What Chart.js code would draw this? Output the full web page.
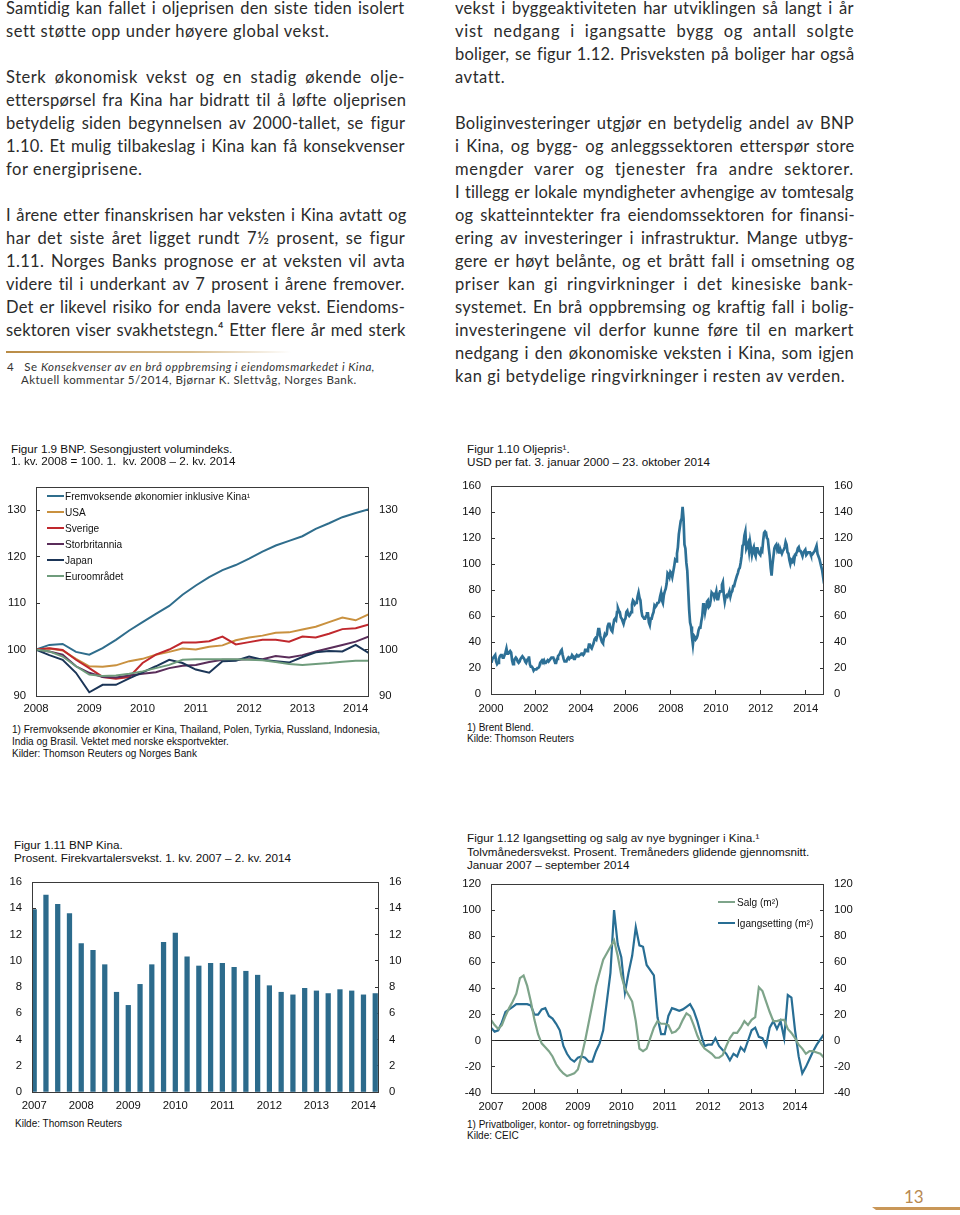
<!DOCTYPE html>
<html><head><meta charset="utf-8">
<script src="https://cdn.jsdelivr.net/npm/chart.js@4.4.1/dist/chart.umd.min.js"></script>
<style>
body{margin:0;width:960px;height:1215px;position:relative;background:#fff;overflow:hidden}
.t{position:absolute;font-family:Lato,"Open Sans",sans-serif;font-size:16.5px;letter-spacing:0.55px;color:#2b2b2b;line-height:23px;white-space:nowrap}
.c{position:absolute;font-family:"Liberation Sans",Arial,sans-serif;font-size:11.7px;line-height:13px;color:#111;white-space:nowrap;z-index:2}
.f{position:absolute;font-family:"Liberation Sans",Arial,sans-serif;font-size:10px;line-height:12px;color:#111;white-space:nowrap;z-index:2}
.lg{position:absolute;font-family:"Liberation Sans",Arial,sans-serif;font-size:10.1px;line-height:12px;color:#111;white-space:nowrap;z-index:2}
.lg i{display:inline-block;width:17px;height:2px;vertical-align:middle;margin-right:1px;position:relative;top:-1px}
canvas{position:absolute;z-index:1}
</style></head><body>

<!-- left column text -->
<div class="t j" style="left:6px;top:-3px">Samtidig kan fallet i oljeprisen den siste tiden isolert</div>
<div class="t" style="left:6px;top:20px">sett støtte opp under høyere global vekst.</div>
<div class="t j" style="left:6px;top:66px">Sterk økonomisk vekst og en stadig økende olje-</div>
<div class="t j" style="left:6px;top:89px">etterspørsel fra Kina har bidratt til å løfte oljeprisen</div>
<div class="t j" style="left:6px;top:112px">betydelig siden begynnelsen av 2000-tallet, se figur</div>
<div class="t j" style="left:6px;top:135px">1.10. Et mulig tilbakeslag i Kina kan få konsekvenser</div>
<div class="t" style="left:6px;top:158px">for energiprisene.</div>
<div class="t j" style="left:6px;top:204px">I årene etter finanskrisen har veksten i Kina avtatt og</div>
<div class="t j" style="left:6px;top:227px">har det siste året ligget rundt 7½ prosent, se figur</div>
<div class="t j" style="left:6px;top:250px">1.11. Norges Banks prognose er at veksten vil avta</div>
<div class="t j" style="left:6px;top:273px">videre til i underkant av 7 prosent i årene fremover.</div>
<div class="t j" style="left:6px;top:296px">Det er likevel risiko for enda lavere vekst. Eiendoms-</div>
<div class="t j" style="left:6px;top:319px">sektoren viser svakhetstegn.⁴ Etter flere år med sterk</div>
<div style="position:absolute;left:6px;top:351px;width:285px;height:2px;background:linear-gradient(to right,#b98b45,#d8bd8e 65%,rgba(255,255,255,0))"></div>
<div class="t" style="left:7px;top:360px;font-size:11.5px;letter-spacing:0.45px;line-height:13px;color:#333">4&nbsp;&nbsp;&nbsp;Se <i>Konsekvenser av en brå oppbremsing i eiendomsmarkedet i Kina,</i></div>
<div class="t" style="left:21px;top:373px;font-size:11.5px;letter-spacing:0.45px;line-height:13px;color:#333">Aktuell kommentar 5/2014, Bjørnar K. Slettvåg, Norges Bank.</div>

<!-- right column text -->
<div class="t j" style="left:455px;top:-3px">vekst i byggeaktiviteten har utviklingen så langt i år</div>
<div class="t j" style="left:455px;top:20px">vist nedgang i igangsatte bygg og antall solgte</div>
<div class="t j" style="left:455px;top:43px">boliger, se figur 1.12. Prisveksten på boliger har også</div>
<div class="t" style="left:455px;top:66px">avtatt.</div>
<div class="t j" style="left:455px;top:112px">Boliginvesteringer utgjør en betydelig andel av BNP</div>
<div class="t j" style="left:455px;top:135px">i Kina, og bygg- og anleggssektoren etterspør store</div>
<div class="t j" style="left:455px;top:158px">mengder varer og tjenester fra andre sektorer.</div>
<div class="t j" style="left:455px;top:181px">I tillegg er lokale myndigheter avhengige av tomtesalg</div>
<div class="t j" style="left:455px;top:204px">og skatteinntekter fra eiendomssektoren for finansi-</div>
<div class="t j" style="left:455px;top:227px">ering av investeringer i infrastruktur. Mange utbyg-</div>
<div class="t j" style="left:455px;top:250px">gere er høyt belånte, og et brått fall i omsetning og</div>
<div class="t j" style="left:455px;top:273px">priser kan gi ringvirkninger i det kinesiske bank-</div>
<div class="t j" style="left:455px;top:296px">systemet. En brå oppbremsing og kraftig fall i bolig-</div>
<div class="t j" style="left:455px;top:319px">investeringene vil derfor kunne føre til en markert</div>
<div class="t j" style="left:455px;top:342px">nedgang i den økonomiske veksten i Kina, som igjen</div>
<div class="t" style="left:455px;top:365px">kan gi betydelige ringvirkninger i resten av verden.</div>

<!-- Figure 1.9 texts -->
<div class="c" style="left:11px;top:442px">Figur 1.9 BNP. Sesongjustert volumindeks.</div>
<div class="c" style="left:11px;top:454px">1. kv. 2008 = 100. 1.&nbsp; kv. 2008 – 2. kv. 2014</div>
<div class="lg" style="left:47px;top:491px"><i style="background:#2f6d8c"></i>Fremvoksende økonomier inklusive Kina¹</div>
<div class="lg" style="left:47px;top:507px"><i style="background:#c9913f"></i>USA</div>
<div class="lg" style="left:47px;top:523px"><i style="background:#c0282d"></i>Sverige</div>
<div class="lg" style="left:47px;top:539px"><i style="background:#5a2d5a"></i>Storbritannia</div>
<div class="lg" style="left:47px;top:555px"><i style="background:#1b3557"></i>Japan</div>
<div class="lg" style="left:47px;top:571px"><i style="background:#6f9c7c"></i>Euroområdet</div>
<div class="f" style="left:12px;top:724px">1) Fremvoksende økonomier er Kina, Thailand, Polen, Tyrkia, Russland, Indonesia,</div>
<div class="f" style="left:12px;top:736px">India og Brasil. Vektet med norske eksportvekter.</div>
<div class="f" style="left:12px;top:748px">Kilder: Thomson Reuters og Norges Bank</div>

<!-- Figure 1.10 texts -->
<div class="c" style="left:467px;top:442px">Figur 1.10 Oljepris¹.</div>
<div class="c" style="left:467px;top:455px">USD per fat. 3. januar 2000 – 23. oktober 2014</div>
<div class="f" style="left:467px;top:722px">1) Brent Blend.</div>
<div class="f" style="left:467px;top:733px">Kilde: Thomson Reuters</div>

<!-- Figure 1.11 texts -->
<div class="c" style="left:14px;top:838px">Figur 1.11 BNP Kina.</div>
<div class="c" style="left:14px;top:851px">Prosent. Firekvartalersvekst. 1. kv. 2007 – 2. kv. 2014</div>
<div class="f" style="left:15px;top:1118px">Kilde: Thomson Reuters</div>

<!-- Figure 1.12 texts -->
<div class="c" style="left:467px;top:831px">Figur 1.12 Igangsetting og salg av nye bygninger i Kina.¹</div>
<div class="c" style="left:467px;top:845px">Tolvmånedersvekst. Prosent. Tremåneders glidende gjennomsnitt.</div>
<div class="c" style="left:467px;top:858px">Januar 2007 – september 2014</div>
<div class="lg" style="left:718px;top:897px"><i style="background:#7ea48a;margin-right:2px"></i>Salg (m²)</div>
<div class="lg" style="left:718px;top:918px"><i style="background:#286e94;margin-right:2px"></i>Igangsetting (m²)</div>
<div class="f" style="left:467px;top:1119px">1) Privatboliger, kontor- og forretningsbygg.</div>
<div class="f" style="left:467px;top:1130px">Kilde: CEIC</div>

<!-- page number -->
<div style="position:absolute;left:904px;top:1186px;font:17px Lato,sans-serif;color:#b8894f">13</div>
<div style="position:absolute;left:872px;top:1207px;width:88px;height:3px;background:#c99758;clip-path:polygon(0 0,100% 0,100% 100%,4px 100%)"></div>

<canvas id="c1" width="420" height="247" style="left:0px;top:475px"></canvas>
<canvas id="c2" width="420" height="246" style="left:450px;top:474px"></canvas>
<canvas id="c3" width="425" height="248" style="left:0px;top:870px"></canvas>
<canvas id="c4" width="420" height="246" style="left:450px;top:872px"></canvas>

<script>
// ---------- DATA ----------
// Figur 1.9: quarterly index, 1. kv. 2008 – 2. kv. 2014
const bnpYearLabels = ['2008','2009','2010','2011','2012','2013','2014'];
const bnpTicks = [90,100,110,120,130];
const bnpEmerging = [100,101,101.2,99.5,98.9,100.3,102.1,104.1,105.9,107.7,109.4,111.8,113.8,115.6,117.1,118.2,119.6,121.1,122.4,123.4,124.4,126,127.2,128.5,129.4,130.2];
const bnpUSA = [100,100.2,99.8,98,96.4,96.3,96.6,97.5,98,98.9,99.5,100.2,100,100.6,100.9,102,102.6,103,103.6,103.7,104.3,104.9,105.9,106.9,106.3,107.6];
const bnpSweden = [100,100.3,99.9,97.8,96,94.1,93.7,94.1,97.1,98.9,100,101.5,101.5,101.8,102.8,101.1,101.6,102.1,102.1,101.7,102.8,102.6,103.4,104.4,104.6,105.4];
const bnpUK = [100,99.6,98.9,96.4,95,94.1,94,94.4,94.8,95.1,96,96.5,96.7,97.3,97.8,97.8,97.9,97.9,98.6,98.3,98.8,99.6,100.3,101,101.7,102.8];
const bnpJapan = [100,98.8,97.8,95,90.8,92.4,92.4,93.8,95.1,96.4,97.8,97.1,95.7,95,97.5,97.6,98.5,97.8,97.5,97.2,98.4,99.4,99.7,99.6,101,99.2];
const bnpEuro = [100,99.6,98.5,96.4,94.6,94.3,94.4,94.8,95.3,96,96.7,97.8,97.9,97.9,97.9,97.9,97.8,97.7,97.3,96.9,96.7,96.9,97.1,97.4,97.6,97.6];

// Figur 1.10: Brent, USD per barrel, two readings per month, Jan 2000 – Oct 2014
const oilYearTicks = [2000,2002,2004,2006,2008,2010,2012,2014];
const oilValueTicks = [0,20,40,60,80,100,120,140,160];
const oilPrice = [
 24,27,28,29,30,25,23,24,27,29,30,30,28,28,30,32,35,31,31,32,33,32,26,23,
 25,27,28,27,25,24,25,27,28,29,28,27,25,24,26,27,29,23,21,21,20,18,19,19,
 19,20,20,21,24,25,26,25,26,24,24,25,26,25,26,27,28,28,28,26,24,24,27,29,
 30,31,33,34,30,27,25,25,25,27,28,27,28,28,30,29,27,27,29,30,29,29,30,30,
 31,31,30,31,34,34,33,34,38,38,36,35,37,39,42,43,42,45,50,50,45,42,40,39,
 43,46,45,46,52,54,54,51,49,48,53,57,58,57,63,66,64,63,59,58,56,54,57,58,
 63,64,61,60,61,63,69,72,71,69,70,70,75,78,74,72,64,60,59,58,58,60,62,62,
 55,53,58,58,61,63,68,67,68,70,70,71,75,78,72,70,76,79,81,85,93,92,90,94,
 93,90,94,98,103,102,108,113,123,128,133,135,144,135,115,112,101,95,80,65,55,52,44,38,
 45,44,42,43,45,49,51,51,56,60,69,69,63,67,71,72,67,68,72,78,77,77,74,76,
 79,73,73,77,79,79,84,86,76,71,75,76,75,77,79,75,78,79,83,83,86,86,91,93,
 96,97,101,106,114,115,122,125,112,114,116,110,117,117,107,111,113,108,106,112,112,109,108,107,
 111,110,118,124,125,124,120,119,112,106,97,91,100,106,112,114,115,111,113,109,109,110,108,110,
 111,113,117,115,109,108,103,100,103,102,104,102,107,108,109,112,113,110,110,108,106,109,110,111,
 107,108,109,109,109,107,107,108,109,110,112,114,108,106,104,101,98,95,90,85];

// Figur 1.11: China GDP, four-quarter growth, 1. kv. 2007 – 2. kv. 2014
const gdpYearLabels = ['2007','2008','2009','2010','2011','2012','2013','2014'];
const gdpTicks = [0,2,4,6,8,10,12,14,16];
const gdpChina = [13.9,15.0,14.3,13.6, 11.3,10.8,9.7,7.6, 6.6,8.2,9.7,11.4, 12.1,10.3,9.6,9.8, 9.8,9.5,9.2,8.9, 8.1,7.6,7.4,7.9, 7.7,7.5,7.8,7.7, 7.4,7.5];

// Figur 1.12: monthly, Jan 2007 – Sep 2014
const bygYearLabels = ['2007','2008','2009','2010','2011','2012','2013','2014'];
const bygTicks = [-40,-20,0,20,40,60,80,100,120];
const salg = [16,12,9,12,19,25,30,36,48,50,42,30,16,5,-2,-5,-8,-12,-18,-22,-25,-27,-26,-25,-22,-12,0,14,28,42,52,62,67,72,77,65,50,40,35,30,15,-6,-8,-6,2,10,15,13,13,12,6,7,10,16,21,19,12,4,-2,-6,-8,-10,-13,-13,-11,-4,2,6,6,10,15,12,16,18,41,38,30,22,15,15,16,16,9,6,2,-3,-6,-10,-8,-8,-9,-10,-13];
const igangsetting = [10,7,8,14,22,24,26,28,28,28,28,27,20,20,24,25,19,17,13,8,-4,-10,-14,-16,-13,-12,-13,-16,-16,-8,-2,8,30,52,100,74,64,37,52,65,87,73,72,58,54,50,18,5,5,19,25,24,23,24,26,28,23,15,5,-4,-3,-3,2,-4,-7,-10,-15,-10,-12,-5,-8,0,8,10,3,2,-4,10,15,9,15,2,35,33,8,-12,-25,-20,-14,-8,-3,1,5];

// ---------- TEXT JUSTIFICATION ----------
function justify(){
  document.querySelectorAll('.j').forEach(el=>{
    el.style.letterSpacing='0px'; el.style.wordSpacing='0px';
    el.style.display='inline-block'; el.style.whiteSpace='nowrap';
    const w = el.getBoundingClientRect().width;
    const text = el.textContent; const n = text.length;
    const spaces = (text.match(/ /g)||[]).length || 1;
    const extra = 399 - w;
    const ls = Math.max(-0.3, Math.min(1.6, extra*0.5/n));
    const ws = (extra - ls*n)/spaces;
    el.style.letterSpacing = ls+'px'; el.style.wordSpacing = ws+'px';
  });
}
justify();
if (document.fonts && document.fonts.ready) document.fonts.ready.then(justify);

// ---------- HELPERS ----------
const FONT = {family:'"Liberation Sans", Arial, sans-serif', size:11.3};
const frame = {id:'frame', afterDraw(chart){
  const {ctx, chartArea:a} = chart;
  ctx.save(); ctx.strokeStyle='#3a3a3a'; ctx.lineWidth=1;
  ctx.strokeRect(Math.round(a.left)+0.5, Math.round(a.top)+0.5, Math.round(a.right-a.left)-1, Math.round(a.bottom-a.top));
  ctx.restore();
}};
function yAxis(pos, min, max, ticks, width, extraGrid){
  return {type:'linear', position:pos, min:min, max:max,
    afterBuildTicks:s=>{ s.ticks = ticks.map(v=>({value:v})); },
    afterFit:s=>{ s.width = width; s.paddingTop = 0; s.paddingBottom = 0; },
    ticks:{font:FONT, color:'#111', padding:14, autoSkip:false, callback:v=>String(v)},
    grid:Object.assign({drawOnChartArea:false, drawTicks:true, tickLength:-4, tickColor:'#333', color:'#333'}, extraGrid||{}),
    border:{display:false}};
}
function xAxis(min, max, tickVals, labelFn, height, pad, tickColor){
  return {type:'linear', position:'bottom', min:min, max:max, offset:false,
    afterBuildTicks:s=>{ s.ticks = tickVals.map(v=>({value:v})); },
    afterFit:s=>{ s.height = height; },
    ticks:{font:FONT, color:'#111', padding:pad, autoSkip:false, maxRotation:0, callback:labelFn},
    grid:{offset:false, drawOnChartArea:false, drawTicks:true, tickLength:-4, tickColor:tickColor, color:tickColor},
    border:{display:false}};
}
function baseOpts(topPad){
  return {responsive:false, animation:false, devicePixelRatio:1,
    layout:{autoPadding:false, padding:{top:topPad,left:0,right:0,bottom:0}},
    plugins:{legend:{display:false}, tooltip:{enabled:false}},
    elements:{point:{radius:0}, line:{tension:0}}};
}

// ---------- Figur 1.9 ----------
(function(){
  const mk = (arr,color)=>({data:arr.map((v,i)=>({x:i,y:v})), borderColor:color, borderWidth:2, yAxisID:'y', fill:false});
  const o = baseOpts(12);
  o.scales = {
    x: xAxis(0, 25, [0,4,8,12,16,20,24], v=>bnpYearLabels[v/4], 26, 10.5, 'rgba(0,0,0,0)'),
    y: yAxis('left', 90, 135, bnpTicks, 36),
    y2: yAxis('right', 90, 135, bnpTicks, 51)
  };
  new Chart(document.getElementById('c1'), {type:'line', data:{datasets:[
    mk(bnpEuro,'#6f9c7c'), mk(bnpJapan,'#1b3557'), mk(bnpUK,'#5a2d5a'),
    mk(bnpSweden,'#c0282d'), mk(bnpUSA,'#c9913f'), mk(bnpEmerging,'#2f6d8c')
  ]}, options:o, plugins:[frame]});
})();

// ---------- Figur 1.10 ----------
(function(){
  const o = baseOpts(12);
  o.scales = {
    x: xAxis(2000, 2014.81, oilYearTicks, v=>String(v), 26, 11.7, '#333'),
    y: yAxis('left', 0, 160, oilValueTicks, 41),
    y2: yAxis('right', 0, 160, oilValueTicks, 46)
  };
  new Chart(document.getElementById('c2'), {type:'line', data:{datasets:[
    {data:oilPrice.map((v,k)=>({x:2000+(k*0.5+0.25)/12, y:v})), borderColor:'#2d7096', borderWidth:2.7, yAxisID:'y', fill:false}
  ]}, options:o, plugins:[frame]});
})();

// ---------- Figur 1.11 ----------
(function(){
  const o = baseOpts(12);
  o.scales = {
    x: xAxis(-0.187, 29.32, [0,4,8,12,16,20,24,28], v=>gdpYearLabels[v/4], 26, 11.2, 'rgba(0,0,0,0)'),
    y: yAxis('left', 0, 16, gdpTicks, 32),
    y2: yAxis('right', 0, 16, gdpTicks, 46)
  };
  new Chart(document.getElementById('c3'), {type:'bar', data:{datasets:[
    {data:gdpChina.map((v,i)=>({x:i, y:v})), backgroundColor:'#2c6b8c', barThickness:4.6, yAxisID:'y'}
  ]}, options:o, plugins:[frame]});
})();

// ---------- Figur 1.12 ----------
(function(){
  const o = baseOpts(12);
  o.scales = {
    x: xAxis(0, 92, [0,12,24,36,48,60,72,84], v=>bygYearLabels[v/12], 25, 10.9, '#333'),
    y: yAxis('left', -40, 120, bygTicks, 41, {drawOnChartArea:true, color:c=>(c.tick && c.tick.value===0)?'#222':'rgba(0,0,0,0)', tickColor:'#333'}),
    y2: yAxis('right', -40, 120, bygTicks, 46)
  };
  new Chart(document.getElementById('c4'), {type:'line', data:{datasets:[
    {data:salg.map((v,i)=>({x:i, y:v})), borderColor:'#7ea48a', borderWidth:2.2, yAxisID:'y', fill:false},
    {data:igangsetting.map((v,i)=>({x:i, y:v})), borderColor:'#286e94', borderWidth:2.2, yAxisID:'y', fill:false}
  ]}, options:o, plugins:[frame]});
})();
</script>
</body></html>
